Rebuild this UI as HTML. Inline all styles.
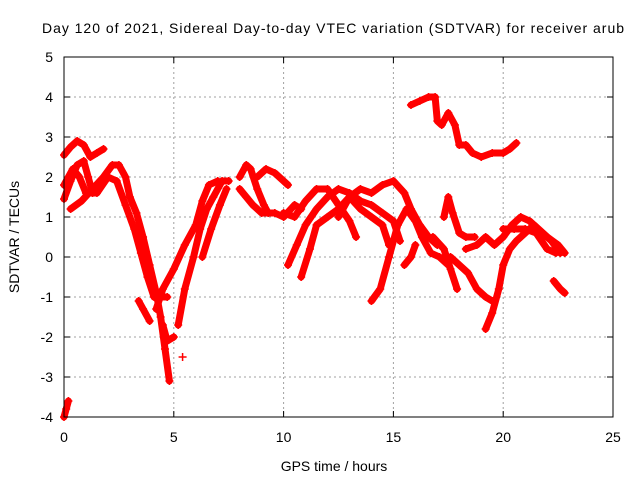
<!DOCTYPE html>
<html><head><meta charset="utf-8"><style>
body{margin:0;background:#fff}
svg{display:block;font-family:"Liberation Sans",sans-serif}
</style></head><body>
<svg id="c" width="640" height="480">
<text x="333" y="33" font-size="14" text-anchor="middle" textLength="582">Day 120 of 2021, Sidereal Day-to-day VTEC variation (SDTVAR) for receiver arub</text>
<text x="334" y="471" font-size="14" text-anchor="middle">GPS time / hours</text>
<text transform="translate(19,237) rotate(-90)" font-size="14" text-anchor="middle">SDTVAR / TECUs</text>
<g id="grid"></g><g id="marks"></g>
<rect x="64" y="57" width="549" height="360" fill="none" stroke="#000" stroke-width="1"/>
</svg>
<script>
const xTicks=[0,5,10,15,20,25];
const yTicks=[-4,-3,-2,-1,0,1,2,3,4,5];
const tracks=[
[[0,2.55],[0.3,2.75],[0.6,2.9],[0.9,2.8],[1.2,2.5],[1.5,2.6],[1.8,2.7]],
[[0,1.45],[0.3,1.9],[0.6,2.3],[0.9,2.4],[1.1,2.0],[1.3,1.6]],
[[0.3,1.2],[0.8,1.4],[1.3,1.7],[1.8,2.0],[2.2,2.3],[2.5,2.3],[2.8,2.0],[3.0,1.5],[3.3,1.1],[3.6,0.5],[3.9,-0.2],[4.2,-0.9],[4.4,-1.5],[4.6,-2.3],[4.8,-3.1]],
[[0,1.8],[0.4,2.2],[0.7,2.0],[1.0,1.6],[1.5,1.6],[2.0,2.0],[2.4,1.9],[2.8,1.3],[3.2,0.7],[3.5,0.1],[3.8,-0.5],[4.1,-1.0],[4.4,-1.0],[4.7,-1.0]],
[[3.4,-1.1],[3.6,-1.3],[3.9,-1.6]],
[[4.5,-1.7],[4.7,-2.1],[5.0,-2.0]],
[[4.2,-1.3],[4.5,-0.8],[5.0,-0.3],[5.5,0.3],[6.0,0.8],[6.3,1.4],[6.6,1.8],[7.0,1.9]],
[[5.2,-1.7],[5.5,-0.8],[5.9,0.0],[6.2,0.7],[6.5,1.2],[6.8,1.5],[7.2,1.9],[7.5,1.9]],
[[6.3,0.0],[6.7,0.7],[7.1,1.3],[7.4,1.7]],
[[0,-4],[0.1,-3.8],[0.2,-3.6]],
[[5.4,-2.5]],
[[8.0,2.0],[8.3,2.3],[8.5,2.2],[8.8,1.7],[9.1,1.3],[9.3,1.1]],
[[8.0,1.7],[8.3,1.5],[8.6,1.3],[9.0,1.1],[9.6,1.1],[10.0,1.0],[10.5,1.3],[10.8,1.2]],
[[8.8,2.0],[9.2,2.2],[9.6,2.1],[10.0,1.9],[10.2,1.8]],
[[10.2,-0.2],[10.6,0.3],[11.0,0.8],[11.5,1.2],[12.0,1.5],[12.5,1.7],[13.0,1.6],[13.5,1.4],[14.0,1.3],[14.5,1.1],[15.0,0.9],[15.3,0.4]],
[[10.8,-0.5],[11.2,0.2],[11.5,0.8],[12,1.0],[12.5,1.2],[13,1.5],[13.5,1.7],[14,1.6],[14.5,1.8],[15,1.9],[15.5,1.6],[15.8,1.2],[16.2,0.8],[16.6,0.5],[17,0.3]],
[[10.0,1.1],[10.5,1.0],[11.0,1.4],[11.5,1.7],[12,1.7],[12.5,1.3],[13,0.9],[13.3,0.5]],
[[12.5,1.0],[13,1.5],[13.5,1.2],[14,1.0],[14.5,0.8],[14.8,0.3]],
[[14.0,-1.1],[14.4,-0.8],[14.8,0.0],[15.2,0.8],[15.6,1.2],[16.0,0.9],[16.3,0.5],[16.7,0.1],[17.1,0.0],[17.5,-0.2]],
[[15.8,3.8],[16.2,3.9],[16.6,4.0],[16.9,4.0],[17.0,3.4],[17.2,3.3],[17.5,3.6],[17.8,3.3],[18.0,2.8],[18.3,2.8],[18.6,2.6],[19.0,2.5],[19.5,2.6],[20.0,2.6],[20.3,2.7],[20.6,2.85]],
[[15.5,-0.2],[15.8,0.0],[16,0.3]],
[[17.3,1.0],[17.5,1.5],[17.7,1.1],[18.0,0.6],[18.3,0.5],[18.7,0.5]],
[[16.8,0.5],[17.3,0.2],[17.6,-0.3],[17.9,-0.8]],
[[17.6,0.0],[18.0,-0.2],[18.4,-0.4],[18.8,-0.8],[19.2,-1.0],[19.5,-1.1]],
[[19.2,-1.8],[19.5,-1.4],[19.8,-0.8],[20.0,-0.2],[20.3,0.2],[20.6,0.4],[21.0,0.6],[21.4,0.8],[21.8,0.6],[22.2,0.4],[22.6,0.1]],
[[18.3,0.2],[18.8,0.3],[19.2,0.5],[19.6,0.3],[20.0,0.5],[20.4,0.8],[20.8,1.0],[21.2,0.9],[21.6,0.7],[22.0,0.5],[22.5,0.3],[22.8,0.1]],
[[22.3,-0.6],[22.6,-0.8],[22.8,-0.9]],
[[20.0,0.7],[20.5,0.7],[21.0,0.7],[21.5,0.6],[22.0,0.2],[22.4,0.1]]
];
const NS='http://www.w3.org/2000/svg';
const X=t=>64+t*549/25, Y=v=>57+(5-v)*40;
function mk(tag,a,p){const e=document.createElementNS(NS,tag);for(const k in a)e.setAttribute(k,a[k]);p.appendChild(e);return e;}
const grid=document.getElementById('grid'),marks=document.getElementById('marks');
xTicks.forEach(t=>{
 if(t>0&&t<25){const l=mk('line',{x1:X(t),x2:X(t),y1:57,y2:417,stroke:'#a0a0a0','stroke-dasharray':'2,3'},grid);
 
 }
 mk('line',{x1:X(t),x2:X(t),y1:417,y2:411,stroke:'#000'},grid);
 mk('line',{x1:X(t),x2:X(t),y1:57,y2:63,stroke:'#000'},grid);
 const tx=mk('text',{x:X(t),y:442,'font-size':14,'text-anchor':'middle'},grid);tx.textContent=t;
 
 
});
yTicks.forEach(v=>{
 if(v>-4&&v<5){const l=mk('line',{x1:64,x2:613,y1:Y(v),y2:Y(v),stroke:'#a0a0a0','stroke-dasharray':'2,3'},grid);
 
 }
 mk('line',{x1:64,x2:70,y1:Y(v),y2:Y(v),stroke:'#000'},grid);
 mk('line',{x1:607,x2:613,y1:Y(v),y2:Y(v),stroke:'#000'},grid);
 const tx=mk('text',{x:53,y:Y(v)+5,'font-size':14,'text-anchor':'end'},grid);tx.textContent=v;
 
 
});
tracks.forEach(tr=>{
 const g=mk('g',{},marks);
 
 
 if(tr.length>1)mk('polyline',{points:tr.map(p=>X(p[0])+','+Y(p[1])).join(' '),fill:'none',stroke:'#f00','stroke-width':7,'stroke-linejoin':'round','stroke-linecap':'round'},g);
 tr.forEach(p=>{
  const d=`M${X(p[0])-4},${Y(p[1])}h8M${X(p[0])},${Y(p[1])-4}v8`;
  const m=mk('path',{d:d,stroke:'#f00','stroke-width':1.5},g);
  
  
 });
});
</script>
</body></html>
